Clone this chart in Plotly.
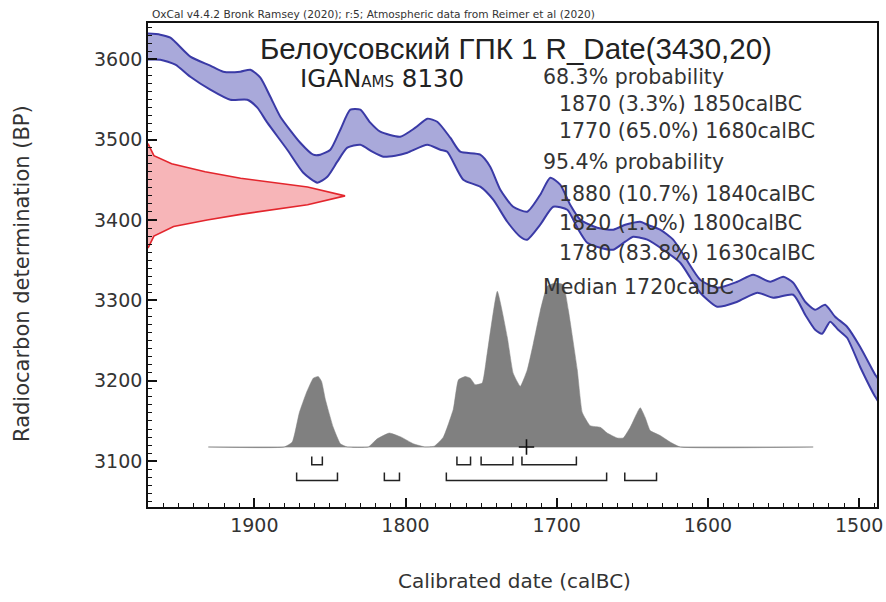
import plotly.graph_objects as go

# ---------------- data ----------------
# calibration curve (IntCal20) 1-sigma band, upper & lower edges
upper_year = [1972.0, 1962.2, 1955.5, 1942.3, 1929.1, 1920.5, 1909.3, 1902.6, 1896.0, 1889.4,
              1882.8, 1869.6, 1861.0, 1856.4, 1849.7, 1843.1, 1836.5, 1829.9, 1823.3, 1816.7,
              1803.5, 1793.5, 1785.6, 1779.0, 1770.4, 1763.8, 1750.6, 1744.0, 1737.3, 1728.8,
              1719.5, 1710.9, 1704.3, 1697.7, 1691.1, 1684.4, 1673.2, 1662.6, 1654.7, 1649.4,
              1644.8, 1640.1, 1631.6, 1623.0, 1615.0, 1605.1, 1593.9, 1580.6, 1570.1, 1558.8,
              1550.2, 1543.6, 1535.7, 1529.1, 1522.5, 1515.9, 1508.0, 1499.4, 1489.4, 1486.0]
upper_bp = [3632, 3630.5, 3626.7, 3603.1, 3591.9, 3584.4, 3584.4, 3586.9, 3577.0, 3553.3,
            3528.5, 3496.1, 3481.2, 3481.2, 3487.4, 3512.3, 3537.2, 3537.2, 3521.0, 3509.8,
            3503.6, 3514.8, 3526.0, 3522.2, 3502.3, 3484.9, 3481.2, 3466.3, 3437.7, 3416.5,
            3410.3, 3431.4, 3452.6, 3443.9, 3419.0, 3400.3, 3390.4, 3387.9, 3394.1, 3396.6,
            3397.8, 3394.1, 3387.9, 3375.5, 3353.1, 3325.7, 3315.7, 3323.2, 3331.9, 3323.2,
            3329.4, 3322.0, 3298.3, 3288.4, 3294.6, 3279.7, 3267.2, 3242.3, 3207.5, 3198.0]
lower_year = [1972.0, 1962.2, 1952.2, 1942.3, 1929.1, 1915.9, 1904.6, 1898.0, 1891.4, 1878.2,
              1867.6, 1858.3, 1851.7, 1845.1, 1838.5, 1829.9, 1822.0, 1814.7, 1806.8, 1798.8,
              1785.6, 1777.0, 1772.4, 1761.8, 1750.6, 1742.0, 1732.7, 1724.1, 1719.5, 1710.9,
              1702.3, 1693.0, 1686.4, 1679.8, 1671.2, 1662.6, 1654.7, 1649.4, 1644.8, 1640.1,
              1629.6, 1618.3, 1611.7, 1605.1, 1593.9, 1580.6, 1567.4, 1556.8, 1543.6, 1535.7,
              1529.1, 1524.5, 1519.2, 1513.9, 1508.0, 1499.4, 1489.4, 1486.0]
lower_bp = [3599.4, 3599.4, 3593.2, 3578.2, 3562.1, 3549.6, 3549.6, 3539.7, 3521.0, 3487.4,
            3458.8, 3446.4, 3453.8, 3472.5, 3489.9, 3493.6, 3484.9, 3478.7, 3480.0, 3483.7,
            3493.6, 3487.4, 3484.9, 3450.1, 3441.4, 3425.2, 3397.8, 3379.2, 3375.5, 3394.1,
            3416.5, 3412.7, 3390.4, 3371.7, 3365.5, 3363.0, 3373.0, 3379.2, 3377.9, 3375.5,
            3363.0, 3346.8, 3328.2, 3309.5, 3292.1, 3298.3, 3309.5, 3303.3, 3307.0, 3282.2,
            3263.5, 3258.5, 3273.5, 3263.5, 3253.5, 3217.5, 3180.2, 3171.0]

# radiocarbon measurement R_Date(3430,20) distribution (relative)
r14c_bp = [3495, 3490, 3480, 3470, 3460, 3452, 3441, 3430, 3419, 3407, 3400, 3392, 3380, 3370, 3365]
r14c_prob = [0, 0.01, 0.03, 0.12, 0.29, 0.47, 0.81, 1.0, 0.81, 0.47, 0.30, 0.13, 0.03, 0.01, 0]

# calibrated date distribution (relative)
cal_year = [1930.4, 1880.2, 1874.9, 1870.2, 1865.6, 1861.0, 1857.7, 1855.5, 1853.0, 1847.8,
            1843.1, 1838.5, 1824.6, 1818.7, 1810.7, 1802.8, 1794.9, 1787.0, 1781.0, 1775.0,
            1768.4, 1765.0, 1760.5, 1757.2, 1753.9, 1749.3, 1746.0, 1739.3, 1732.7, 1728.8,
            1724.1, 1719.5, 1715.5, 1710.9, 1706.3, 1701.0, 1695.7, 1692.4, 1686.4, 1683.1,
            1677.9, 1671.2, 1666.6, 1660.0, 1656.0, 1651.4, 1644.8, 1641.5, 1638.2, 1631.6,
            1625.0, 1618.3, 1530.4]
cal_prob = [0, 0, 0.03, 0.21, 0.33, 0.42, 0.43, 0.40, 0.29, 0.12,
            0.02, 0, 0, 0.05, 0.085, 0.06, 0.02, 0, 0.005, 0.06,
            0.23, 0.41, 0.43, 0.42, 0.38, 0.39, 0.57, 0.95, 0.67, 0.45,
            0.37, 0.47, 0.63, 0.83, 0.98, 1.0, 0.99, 0.84, 0.47, 0.21,
            0.13, 0.12, 0.085, 0.055, 0.055, 0.12, 0.24, 0.18, 0.10, 0.07,
            0.03, 0, 0]
median_year = 1720

# highest posterior density ranges (as drawn)
hpd68_from = [1862, 1766, 1750, 1723]
hpd68_to = [1855, 1757, 1729, 1687]
hpd95_from = [1872, 1814, 1773, 1655]
hpd95_to = [1845, 1804, 1667, 1634]

header = "OxCal v4.4.2 Bronk Ramsey (2020); r:5; Atmospheric data from Reimer et al (2020)"
title = "Белоусовский ГПК 1 R_Date(3430,20)"
lab_main, lab_small, lab_num = "IGAN", "AMS", "8130"
summary_lines = [
    ("68.3% probability", 0),
    ("1870 (3.3%) 1850calBC", 1),
    ("1770 (65.0%) 1680calBC", 1),
    ("95.4% probability", 0),
    ("1880 (10.7%) 1840calBC", 1),
    ("1820 (1.0%) 1800calBC", 1),
    ("1780 (83.8%) 1630calBC", 1),
    ("Median 1720calBC", 0),
]

# ---------------- figure ----------------
FONT = "Liberation Sans, Arial, sans-serif"
WIDE = "DejaVu Sans, Verdana, sans-serif"
TXT = "#333333"

fig = go.Figure()

# calibration band
fig.add_trace(go.Scatter(
    x=upper_year + lower_year[::-1], y=upper_bp + lower_bp[::-1],
    mode="lines", fill="toself", fillcolor="#a9a9da",
    line=dict(color="#3a3aa6", width=2, shape="spline", smoothing=0.6),
    hoverinfo="skip", showlegend=False))

# radiocarbon distribution on the y axis
fig.add_trace(go.Scatter(
    x=r14c_prob, y=r14c_bp, xaxis="x2", yaxis="y",
    mode="lines", fill="tozerox", fillcolor="rgba(240,120,125,0.55)",
    line=dict(color="#e3262d", width=1.6),
    hoverinfo="skip", showlegend=False))

# calibrated distribution
fig.add_trace(go.Scatter(
    x=[cal_year[0], cal_year[-1]], y=[0, 0], xaxis="x", yaxis="y2",
    mode="lines", line=dict(color="#c8c8c8", width=1.5),
    hoverinfo="skip", showlegend=False))
fig.add_trace(go.Scatter(
    x=cal_year, y=cal_prob, xaxis="x", yaxis="y2",
    mode="lines", fill="tozeroy", fillcolor="#808080",
    line=dict(color="#808080", width=0.5, shape="spline", smoothing=0.4),
    hoverinfo="skip", showlegend=False))

# hpd brackets
def bracket(froms, tos, top, bottom):
    xs, ys = [], []
    for a, b in zip(froms, tos):
        xs += [a, a, b, b, None]
        ys += [top, bottom, bottom, top, None]
    return xs, ys

bx, by = bracket(hpd68_from, hpd68_to, -0.058, -0.108)
fig.add_trace(go.Scatter(x=bx, y=by, xaxis="x", yaxis="y2", mode="lines",
                         line=dict(color="#222222", width=1.5),
                         hoverinfo="skip", showlegend=False))
bx, by = bracket(hpd95_from, hpd95_to, -0.155, -0.205)
fig.add_trace(go.Scatter(x=bx, y=by, xaxis="x", yaxis="y2", mode="lines",
                         line=dict(color="#222222", width=1.5),
                         hoverinfo="skip", showlegend=False))

# median marker
fig.add_trace(go.Scatter(x=[median_year], y=[0], xaxis="x", yaxis="y2", mode="markers",
                         marker=dict(symbol="cross-thin", size=11,
                                     line=dict(color="#111111", width=1.6)),
                         hoverinfo="skip", showlegend=False))

axis_common = dict(showline=True, linecolor="#111111", linewidth=1.6, mirror=True,
                   ticks="inside", ticklen=9, tickwidth=1.5, tickcolor="#111111",
                   showgrid=False, zeroline=False, automargin=False,
                   tickfont=dict(family=WIDE, size=19, color=TXT),
                   minor=dict(ticks="inside", ticklen=4, tickwidth=1, tickcolor="#111111",
                              dtick=10, showgrid=False))

fig.update_layout(
    width=886, height=602,
    margin=dict(l=148, r=9, t=23, b=95),
    paper_bgcolor="white", plot_bgcolor="white",
    font=dict(family=FONT, color=TXT),
    xaxis=dict(range=[1970.3, 1488.2], dtick=100, **axis_common),
    yaxis=dict(range=[3043, 3645], dtick=100, **axis_common),
    xaxis2=dict(range=[0, 3.70], overlaying="x", anchor="y", visible=False),
    yaxis2=dict(range=[-0.366, 2.586], overlaying="y", anchor="x", visible=False),
    showlegend=False,
)

def px_x(px):
    return (px - 148) / 729

def px_y(py):
    return (507 - py) / 484

ann = []
ann.append(dict(text=header, x=px_x(150), y=1.002, xref="paper", yref="paper",
                xanchor="left", yanchor="bottom", showarrow=False,
                font=dict(size=10.6, color=TXT, family=WIDE)))
ann.append(dict(text=title, x=px_x(516), y=px_y(48), xref="paper", yref="paper",
                xanchor="center", yanchor="middle", showarrow=False,
                font=dict(size=29.5, color="#222222", family=FONT)))
ann.append(dict(text=f"{lab_main}<span style='font-size:15px'>{lab_small}</span> {lab_num}",
                x=px_x(298), y=px_y(78), xref="paper", yref="paper",
                xanchor="left", yanchor="middle", showarrow=False,
                font=dict(size=24.5, color="#222222", family=WIDE)))
line_py = [77, 104, 131, 162, 194, 223, 253, 287]
for (txt, indent), py in zip(summary_lines, line_py):
    px = 557 if indent else 541
    ann.append(dict(text=txt, x=px_x(px), y=px_y(py),
                    xref="paper", yref="paper", xanchor="left", yanchor="middle",
                    showarrow=False, font=dict(size=20.5, color=TXT, family=WIDE)))
ann.append(dict(text="Radiocarbon determination (BP)", x=px_x(22), y=px_y(274),
                xref="paper", yref="paper", xanchor="center", yanchor="middle",
                textangle=-90, showarrow=False, font=dict(size=21, color=TXT, family=WIDE)))
ann.append(dict(text="Calibrated date (calBC)", x=px_x(514), y=px_y(581),
                xref="paper", yref="paper", xanchor="center", yanchor="middle",
                showarrow=False, font=dict(size=20, color=TXT, family=WIDE)))
fig.update_layout(annotations=ann)

fig.write_html("out.html", config={"displayModeBar": False},
               post_script="document.body.style.margin='0px';")
